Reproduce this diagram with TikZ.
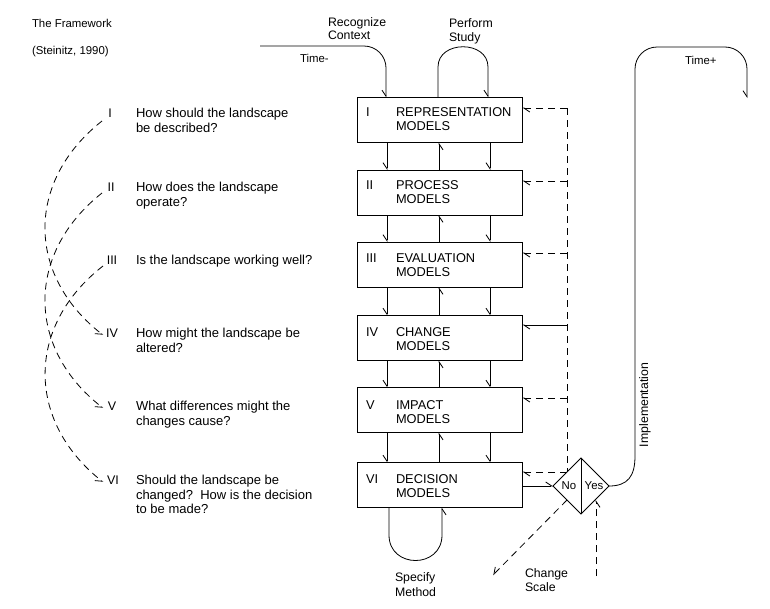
\documentclass[tikz,border=0pt]{standalone}
\usepackage{fontspec}
\setmainfont{Liberation Sans}
\usetikzlibrary{arrows.meta,shapes.geometric}
\begin{document}
\begin{tikzpicture}[x=1pt,y=-1pt,
  line width=0.8pt,
  every node/.style={inner sep=0pt, outer sep=0pt},
  box/.style={draw, minimum width=165pt, minimum height=45pt},
  btext/.style={font=\fontsize{12.8}{14.5}\selectfont, align=left, anchor=north west},
  bnum/.style={font=\fontsize{12.8}{14.5}\selectfont, anchor=west},
  qtext/.style={font=\fontsize{13}{14.5}\selectfont, align=left, anchor=north west},
  qnum/.style={font=\fontsize{12.5}{14.5}\selectfont, anchor=center},
  lbl/.style={font=\fontsize{12.3}{14}\selectfont, align=left, anchor=north west},
  small/.style={font=\fontsize{11.4}{13}\selectfont, anchor=west},
  dsh/.style={dash pattern=on 7pt off 5pt},
  arrR/.style={-{Straight Barb[harpoon,swap,length=6pt,width=8pt]}},
  arrL/.style={-{Straight Barb[harpoon,length=6pt,width=8pt]}},
]
\useasboundingbox (0,0) rectangle (770,608);

% titles
\node[small] (title) at (32,23) {The Framework};
\node[small] (cite) at (32,52) {(Steinitz, 1990)};

% top / bottom labels
\node[lbl] (rc) at (328,17.3) {Recognize\\[-0.5pt]Context};
\node[lbl] (ps) at (449,18.3) {Perform\\Study};
\node[small] (tminus) at (300,58) {Time-};
\node[small] (tplus) at (685,60) {Time+};
\node[lbl] (sm) at (395,572.6) {Specify\\[1pt]Method};
\node[lbl] (cs) at (525,568.6) {Change\\Scale};
\node[lbl, rotate=90, anchor=center] (impl) at (645,405) {Implementation};

% boxes
\node[box] (b1) at (440,120) {};
\node[box] (b2) at (440,192.5) {};
\node[box] (b3) at (440,264.5) {};
\node[box] (b4) at (440,338) {};
\node[box] (b5) at (440,410) {};
\node[box] (b6) at (440,485) {};

\node[bnum] (n1) at (366,112) {I};
\node[btext] (t1) at (396,107.4) {REPRESENTATION\\MODELS};
\node[bnum] (n2) at (366,185) {II};
\node[btext] (t2) at (396,180.4) {PROCESS\\MODELS};
\node[bnum] (n3) at (366,258) {III};
\node[btext] (t3) at (396,253.4) {EVALUATION\\MODELS};
\node[bnum] (n4) at (366,332) {IV};
\node[btext] (t4) at (396,327.4) {CHANGE\\MODELS};
\node[bnum] (n5) at (366,405) {V};
\node[btext] (t5) at (396,400.4) {IMPACT\\MODELS};
\node[bnum] (n6) at (366,479) {VI};
\node[btext] (t6) at (396,474.4) {DECISION\\MODELS};

% questions
\node[qnum] (q1) at (110,113) {I};
\node[qtext] (qt1) at (136,108.3) {How should the landscape\\be described?};
\node[qnum] (q2) at (111,187) {II};
\node[qtext] (qt2) at (136,182.3) {How does the landscape\\operate?};
\node[qnum] (q3) at (112,260) {III};
\node[qtext] (qt3) at (136,255.3) {Is the landscape working well?};
\node[qnum] (q4) at (112,333) {IV};
\node[qtext] (qt4) at (136,328.3) {How might the landscape be\\altered?};
\node[qnum] (q5) at (112,406) {V};
\node[qtext] (qt5) at (136,401.3) {What differences might the\\changes cause?};
\node[qnum] (q6) at (113,480) {VI};
\node[qtext] (qt6) at (136,475.3) {Should the landscape be\\changed?\ \ How is the decision\\to be made?};

% left dashed arcs
\coordinate (s1) at (102,121);
\coordinate (s2) at (102,193);
\coordinate (s3) at (103,266);
\coordinate (e4) at (103,335);
\coordinate (e5) at (103,408);
\coordinate (e6) at (103,482);
\draw[dsh,arrR] (s1) .. controls (26,181) and (26,275) .. (e4);
\draw[dsh,arrR] (s2) .. controls (26,253) and (26,348) .. (e5);
\draw[dsh,arrR] (s3) .. controls (26,326) and (26,421) .. (e6);

% between boxes
\foreach \a/\b in {b1/b2,b2/b3,b3/b4,b4/b5,b5/b6} {
  \draw[arrR] (\a.south -| 387,0) -- (\b.north -| 387,0);
  \draw[arrR] (\b.north -| 439,0) -- (\a.south -| 439,0);
  \draw[arrR] (\a.south -| 490,0) -- (\b.north -| 490,0);
}

% Time- entry
\coordinate (tstart) at (260,46);
\draw[arrR, rounded corners=22pt] (tstart) -- (386,46) -- (b1.north -| 386,0);

% Perform Study loop
\draw[arrR] (b1.north -| 438,0) -- (438,67) .. controls (438,40) and (488,40) .. (488,67) -- (b1.north -| 488,0);

% Specify Method loop
\draw[arrR] (b6.south -| 389,0) -- (389,535) .. controls (389,569) and (442,569) .. (442,535) -- (b6.south -| 442,0);

% decision diamond
\node[draw, diamond, minimum width=56pt, minimum height=56pt] (dec) at (581,486) {};
\draw (dec.north) -- (dec.south);
\node[font=\fontsize{11.4}{13}\selectfont] (no) at (569,486) {No};
\node[font=\fontsize{11.4}{13}\selectfont] (yes) at (594,486) {Yes};

\draw[arrL] (b6.east |- dec.west) -- (dec.west);

% right dashed feedback column
\coordinate (r1) at (567,108);
\coordinate (r2) at (567,181);
\coordinate (r3) at (567,253);
\coordinate (r4) at (567,325);
\coordinate (r5) at (567,398);
\draw[dsh] (r1) -- (dec.north west);
\draw[dsh,arrL] (r1) -- (b1.east |- r1);
\draw[dsh,arrL] (r2) -- (b2.east |- r2);
\draw[dsh,arrL] (r3) -- (b3.east |- r3);
\draw[arrL] (r4) -- (b4.east |- r4);
\draw[dsh,arrL] (r5) -- (b5.east |- r5);
\draw[dsh,arrL] (dec.north west) -- (b6.east |- dec.north west);

% change scale
\coordinate (csend) at (493,575);
\draw[dsh,arrR] (dec.south west) -- (csend);
\coordinate (ysstart) at (596,576);
\draw[dsh,arrR] (ysstart) -- (dec.south east -| ysstart);

% implementation / Time+
\coordinate (tpend) at (747,98);
\draw[arrR] (dec.east) .. controls (628,486) and (635,476) .. (635,456)
  [rounded corners=22pt] -- (635,47) -- (747,47) -- (tpend);
\end{tikzpicture}
\end{document}
